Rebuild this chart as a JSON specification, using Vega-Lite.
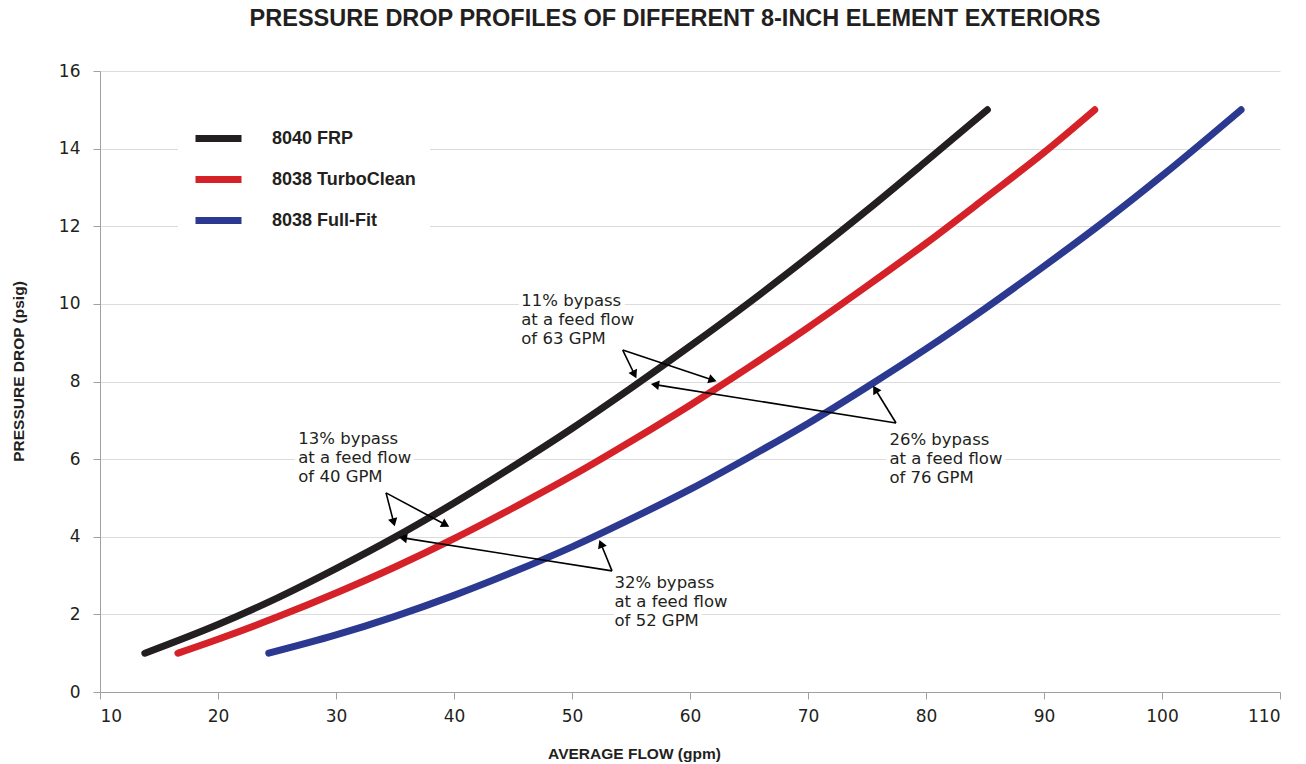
{
  "$schema": "https://vega.github.io/schema/vega-lite/v6.json",
  "autosize": "none",
  "width": 1180,
  "height": 621,
  "padding": {"left": 100, "top": 71, "right": 26, "bottom": 72},
  "background": "white",
  "title": {
    "text": "PRESSURE DROP PROFILES OF DIFFERENT 8-INCH ELEMENT EXTERIORS",
    "font": "Liberation Sans",
    "fontSize": 23.5,
    "fontWeight": "bold",
    "color": "#231f20",
    "anchor": "middle",
    "dx": -15,
    "offset": 32
  },
  "config": {
    "view": {"stroke": null},
    "axis": {
      "labelFont": "DejaVu Sans",
      "labelFontSize": 17,
      "labelColor": "#231f20",
      "titleFont": "Liberation Sans",
      "titleFontSize": 15.5,
      "titleFontWeight": "bold",
      "titleColor": "#231f20",
      "domainColor": "#a0a0a0",
      "tickColor": "#a0a0a0",
      "tickSize": 7,
      "gridColor": "#dcdcdc"
    }
  },
  "datasets": {
    "curves": [
      {"flow": 13.8, "dp": 1.0, "series": "8040 FRP"},
      {"flow": 20, "dp": 1.74, "series": "8040 FRP"},
      {"flow": 25, "dp": 2.42, "series": "8040 FRP"},
      {"flow": 30, "dp": 3.18, "series": "8040 FRP"},
      {"flow": 35, "dp": 3.99, "series": "8040 FRP"},
      {"flow": 40, "dp": 4.87, "series": "8040 FRP"},
      {"flow": 45, "dp": 5.81, "series": "8040 FRP"},
      {"flow": 50, "dp": 6.79, "series": "8040 FRP"},
      {"flow": 55, "dp": 7.83, "series": "8040 FRP"},
      {"flow": 60, "dp": 8.91, "series": "8040 FRP"},
      {"flow": 65, "dp": 10.03, "series": "8040 FRP"},
      {"flow": 70, "dp": 11.2, "series": "8040 FRP"},
      {"flow": 75, "dp": 12.41, "series": "8040 FRP"},
      {"flow": 80, "dp": 13.67, "series": "8040 FRP"},
      {"flow": 85.2, "dp": 15.0, "series": "8040 FRP"},
      {"flow": 16.6, "dp": 1.0, "series": "8038 TurboClean"},
      {"flow": 20, "dp": 1.36, "series": "8038 TurboClean"},
      {"flow": 25, "dp": 1.93, "series": "8038 TurboClean"},
      {"flow": 30, "dp": 2.55, "series": "8038 TurboClean"},
      {"flow": 35, "dp": 3.22, "series": "8038 TurboClean"},
      {"flow": 40, "dp": 3.95, "series": "8038 TurboClean"},
      {"flow": 45, "dp": 4.74, "series": "8038 TurboClean"},
      {"flow": 50, "dp": 5.57, "series": "8038 TurboClean"},
      {"flow": 55, "dp": 6.46, "series": "8038 TurboClean"},
      {"flow": 60, "dp": 7.39, "series": "8038 TurboClean"},
      {"flow": 65, "dp": 8.37, "series": "8038 TurboClean"},
      {"flow": 70, "dp": 9.39, "series": "8038 TurboClean"},
      {"flow": 75, "dp": 10.46, "series": "8038 TurboClean"},
      {"flow": 80, "dp": 11.56, "series": "8038 TurboClean"},
      {"flow": 85, "dp": 12.72, "series": "8038 TurboClean"},
      {"flow": 90, "dp": 13.9, "series": "8038 TurboClean"},
      {"flow": 94.3, "dp": 15.0, "series": "8038 TurboClean"},
      {"flow": 24.3, "dp": 1.0, "series": "8038 Full-Fit"},
      {"flow": 30, "dp": 1.47, "series": "8038 Full-Fit"},
      {"flow": 35, "dp": 1.95, "series": "8038 Full-Fit"},
      {"flow": 40, "dp": 2.49, "series": "8038 Full-Fit"},
      {"flow": 45, "dp": 3.09, "series": "8038 Full-Fit"},
      {"flow": 50, "dp": 3.74, "series": "8038 Full-Fit"},
      {"flow": 55, "dp": 4.46, "series": "8038 Full-Fit"},
      {"flow": 60, "dp": 5.22, "series": "8038 Full-Fit"},
      {"flow": 65, "dp": 6.05, "series": "8038 Full-Fit"},
      {"flow": 70, "dp": 6.92, "series": "8038 Full-Fit"},
      {"flow": 75, "dp": 7.86, "series": "8038 Full-Fit"},
      {"flow": 80, "dp": 8.84, "series": "8038 Full-Fit"},
      {"flow": 85, "dp": 9.88, "series": "8038 Full-Fit"},
      {"flow": 90, "dp": 10.97, "series": "8038 Full-Fit"},
      {"flow": 95, "dp": 12.1, "series": "8038 Full-Fit"},
      {"flow": 100, "dp": 13.3, "series": "8038 Full-Fit"},
      {"flow": 106.7, "dp": 15.0, "series": "8038 Full-Fit"}
    ],
    "arrows": [
      {"x": 34.24, "y": 5.13, "x2": 34.89, "y2": 4.37, "heading": 165},
      {"x": 34.24, "y": 5.13, "x2": 39.29, "y2": 4.31, "heading": 118},
      {"x": 53.39, "y": 3.12, "x2": 52.45, "y2": 3.82, "heading": -22},
      {"x": 53.39, "y": 3.12, "x2": 35.67, "y2": 3.97, "heading": -81},
      {"x": 54.3, "y": 8.81, "x2": 55.3, "y2": 8.18, "heading": 154},
      {"x": 54.3, "y": 8.81, "x2": 61.92, "y2": 8.04, "heading": 108},
      {"x": 77.46, "y": 6.93, "x2": 75.7, "y2": 7.8, "heading": -31},
      {"x": 77.46, "y": 6.93, "x2": 57.03, "y2": 7.92, "heading": -81}
    ],
    "notes": [
      {"x": 26.8, "y": 6.72, "label": "13% bypass\nat a feed flow\nof 40 GPM"},
      {"x": 45.7, "y": 10.28, "label": "11% bypass\nat a feed flow\nof 63 GPM"},
      {"x": 53.6, "y": 3.01, "label": "32% bypass\nat a feed flow\nof 52 GPM"},
      {"x": 76.9, "y": 6.69, "label": "26% bypass\nat a feed flow\nof 76 GPM"}
    ]
  },
  "layer": [
    {
      "data": {"name": "notes"},
      "mark": {"type": "text", "align": "left", "baseline": "top", "lineBreak": "\n", "lineHeight": 19, "font": "DejaVu Sans", "fontSize": 16.5, "stroke": "white", "strokeWidth": 9, "strokeJoin": "round", "fill": "white"},
      "encoding": {
        "x": {"field": "x", "type": "quantitative"},
        "y": {"field": "y", "type": "quantitative"},
        "text": {"field": "label"}
      }
    },
    {
      "data": {"name": "curves"},
      "mark": {"type": "line", "strokeWidth": 7, "strokeCap": "round", "strokeJoin": "round", "interpolate": "monotone"},
      "encoding": {
        "x": {
          "field": "flow", "type": "quantitative",
          "scale": {"domain": [10, 110], "nice": false, "zero": false},
          "axis": {"values": [10, 20, 30, 40, 50, 60, 70, 80, 90, 100, 110], "grid": false, "labelPadding": 9, "title": "AVERAGE FLOW (gpm)", "titleX": 534, "titleY": 54, "titleAnchor": null}
        },
        "y": {
          "field": "dp", "type": "quantitative",
          "scale": {"domain": [0, 16], "nice": false},
          "axis": {"values": [0, 2, 4, 6, 8, 10, 12, 14, 16], "grid": true, "labelPadding": 13, "title": "PRESSURE DROP (psig)", "titleX": -82, "titleY": 300, "titleAngle": -90, "titleAlign": "center", "titleBaseline": "middle"}
        },
        "color": {
          "field": "series", "type": "nominal",
          "scale": {"domain": ["8040 FRP", "8038 TurboClean", "8038 Full-Fit"], "range": ["#231f20", "#d52229", "#2b3990"]},
          "legend": {
            "title": null,
            "orient": "none",
            "legendX": 78,
            "legendY": 27,
            "padding": 14,
            "fillColor": "white",
            "symbolType": "stroke",
            "symbolSize": 2116,
            "symbolStrokeWidth": 7,
            "labelFont": "Liberation Sans",
            "labelFontSize": 18,
            "labelFontWeight": "bold",
            "labelColor": "#231f20",
            "labelOffset": 27,
            "rowPadding": -7
          }
        },
        "detail": {"field": "series"}
      }
    },
    {
      "data": {"name": "arrows"},
      "mark": {"type": "rule", "color": "black", "strokeWidth": 1.6},
      "encoding": {
        "x": {"field": "x", "type": "quantitative"},
        "y": {"field": "y", "type": "quantitative"},
        "x2": {"field": "x2"},
        "y2": {"field": "y2"}
      }
    },
    {
      "data": {"name": "arrows"},
      "mark": {"type": "point", "shape": "triangle-up", "filled": true, "color": "black", "size": 90, "opacity": 1},
      "encoding": {
        "x": {"field": "x2", "type": "quantitative"},
        "y": {"field": "y2", "type": "quantitative"},
        "angle": {"field": "heading", "type": "quantitative", "scale": null}
      }
    },
    {
      "data": {"name": "notes"},
      "mark": {"type": "text", "align": "left", "baseline": "top", "lineBreak": "\n", "lineHeight": 19, "font": "DejaVu Sans", "fontSize": 16.5, "color": "#231f20"},
      "encoding": {
        "x": {"field": "x", "type": "quantitative"},
        "y": {"field": "y", "type": "quantitative"},
        "text": {"field": "label"}
      }
    }
  ]
}
